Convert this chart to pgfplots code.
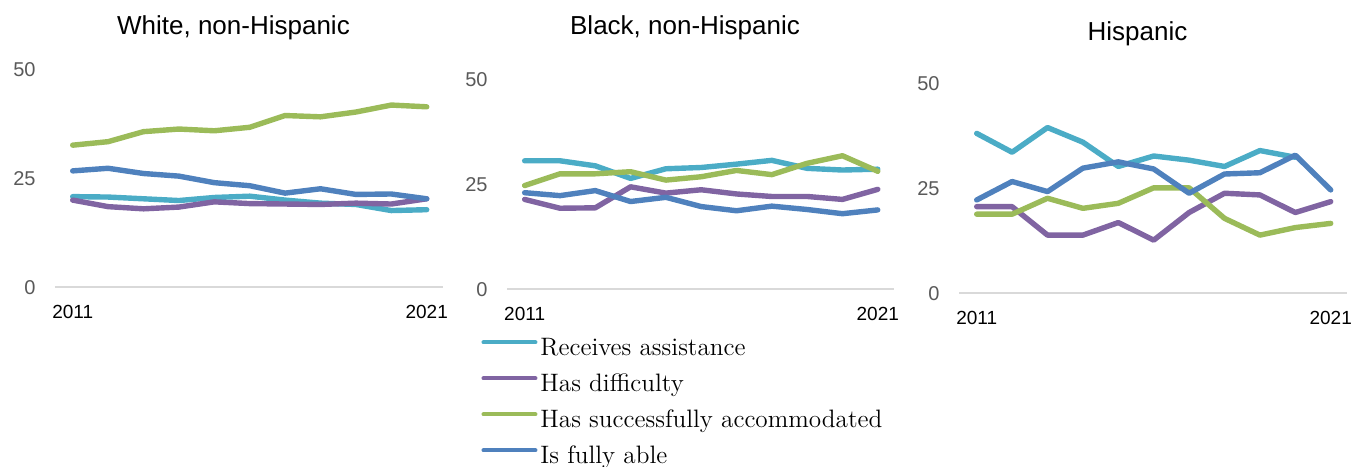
\documentclass[border=0pt]{standalone}
\usepackage{pgfplots}
\usepackage{pgfplotstable}
\pgfplotsset{compat=1.18}
\usepackage{fontspec}
\newfontfamily\sans{Liberation Sans}

\definecolor{cteal}{HTML}{4BACC6}
\definecolor{cpurple}{HTML}{8064A2}
\definecolor{cgreen}{HTML}{9BBB59}
\definecolor{cblue}{HTML}{4F81BD}
\definecolor{axisgray}{HTML}{D9D9D9}
\definecolor{tickgray}{HTML}{595959}

\pgfplotstableread{
year t p g b
2011 20.8 20.0 32.6 26.7
2012 20.7 18.5 33.4 27.3
2013 20.3 18.0 35.7 26.1
2014 19.9 18.4 36.3 25.5
2015 20.6 19.6 35.9 24.0
2016 20.9 19.2 36.7 23.3
2017 20.0 19.1 39.4 21.6
2018 19.3 19.0 39.1 22.6
2019 19.0 19.3 40.2 21.3
2020 17.6 19.1 41.8 21.4
2021 17.8 20.3 41.4 20.3
}\white

\pgfplotstableread{
year t p g b
2011 30.6 21.4 24.7 23.0
2012 30.6 19.3 27.5 22.3
2013 29.4 19.4 27.5 23.5
2014 26.4 24.4 28.0 20.9
2015 28.7 22.9 26.0 21.9
2016 29.0 23.7 26.8 19.7
2017 29.8 22.7 28.3 18.7
2018 30.7 22.1 27.3 19.8
2019 28.8 22.1 30.0 19.0
2020 28.4 21.4 31.8 18.0
2021 28.6 23.8 28.1 18.9
}\black

\pgfplotstableread{
year t p g b
2011 38.2 20.7 18.9 22.3
2012 33.7 20.7 18.9 26.7
2013 39.6 13.9 22.7 24.3
2014 36.1 13.9 20.3 29.9
2015 30.3 16.9 21.5 31.4
2016 32.8 12.7 25.2 29.7
2017 31.8 19.3 25.2 23.9
2018 30.3 23.9 17.9 28.5
2019 34.1 23.5 13.9 28.8
2020 32.5 19.3 15.7 33.0
2021 nan  21.9 16.7 24.7
}\hisp

\pgfplotsset{panel/.style={
  scale only axis, clip=false,
  anchor=south west,
  xmin=2010.5, xmax=2021.46, ymin=0, ymax=50,
  xtick={2011,2021}, ytick={0,25,50},
  major tick length=0pt,
  axis line style={draw=none},
  extra y ticks={0}, extra y tick labels={},
  extra y tick style={grid=major, major grid style={draw=axisgray, line width=1pt}},
  /pgf/number format/1000 sep={},
  /pgf/number format/assume math mode=true,
  xticklabel style={font=\sans\fontsize{9.5}{10}\selectfont, text=black, anchor=north, inner sep=0pt, yshift=-9pt},
  yticklabel style={font=\sans\fontsize{10}{11}\selectfont, text=tickgray, anchor=east, inner sep=0pt, xshift=-9.5pt},
  title style={font=\sans\fontsize{13}{15}\selectfont, anchor=base, at={(0.46,1)}, inner sep=0pt},
  every axis plot/.append style={line width=2.7pt, line join=round, line cap=round, no markers},
}}

\begin{document}
\begin{tikzpicture}
\useasboundingbox (0,0) rectangle (677pt,233pt);

\begin{axis}[panel, at={(27.5pt,89.35pt)}, width=194pt, height=109pt,
  title={White, non-Hispanic}, title style={yshift=11.2pt}]
\addplot[cteal] table[x=year,y=t]{\white};
\addplot[cpurple] table[x=year,y=p]{\white};
\addplot[cgreen] table[x=year,y=g]{\white};
\addplot[cblue] table[x=year,y=b]{\white};
\end{axis}

\begin{axis}[panel, at={(253.5pt,88.35pt)}, width=193.5pt, height=105pt,
  title={Black, non-Hispanic}, title style={yshift=16.2pt},
  legend style={at={(-0.067,-0.227)}, anchor=north west, draw=none, fill=none,
    inner sep=0pt, font=\fontsize{12.6}{14}\selectfont, row sep=6pt,
    nodes={inner sep=0pt, text height=9pt, text depth=3pt}},
  /tikz/every odd column/.append style={column sep=1.5pt},
  legend cell align=left,
  legend image code/.code={\draw[line width=2pt, line cap=round] (0pt,3.5pt) -- (26pt,3.5pt);}]
\addplot[cteal] table[x=year,y=t]{\black};
\addplot[cpurple] table[x=year,y=p]{\black};
\addplot[cgreen] table[x=year,y=g]{\black};
\addplot[cblue] table[x=year,y=b]{\black};
\legend{Receives assistance, Has difficulty, Has successfully accommodated, Is fully able}
\end{axis}

\begin{axis}[panel, at={(479.5pt,86.35pt)}, width=194pt, height=104.65pt,
  title={Hispanic}, title style={yshift=15.7pt}]
\addplot[cteal] table[x=year,y=t]{\hisp};
\addplot[cpurple] table[x=year,y=p]{\hisp};
\addplot[cgreen] table[x=year,y=g]{\hisp};
\addplot[cblue] table[x=year,y=b]{\hisp};
\end{axis}
\end{tikzpicture}
\end{document}
